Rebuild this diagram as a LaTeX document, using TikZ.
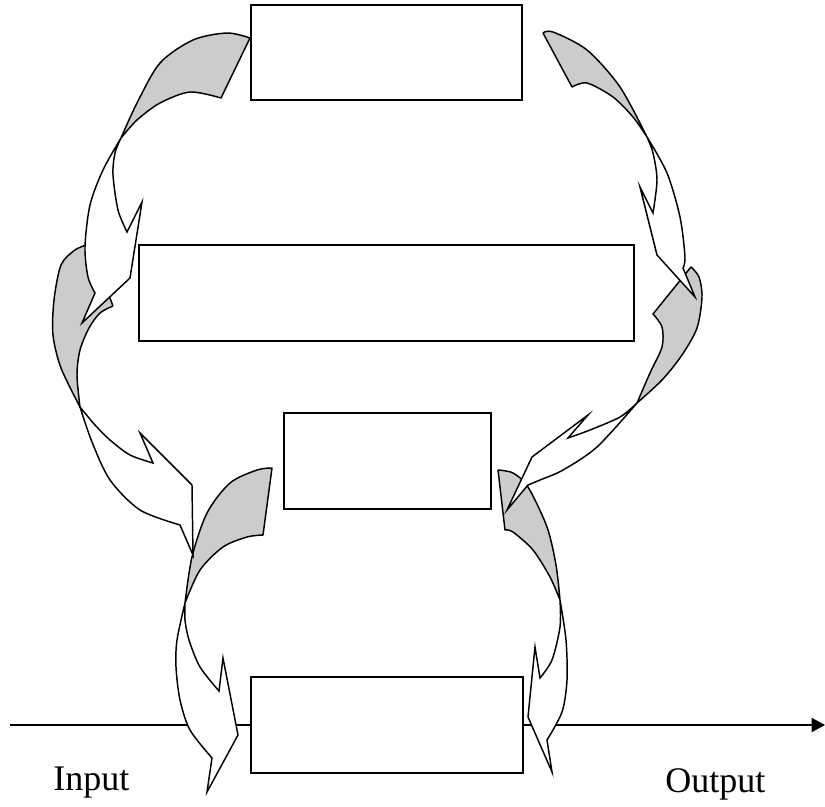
\documentclass[tikz,border=0pt]{standalone}
\usepackage{fontspec}
\setmainfont{Liberation Serif}
\usetikzlibrary{arrows.meta, positioning}

\begin{document}
\begin{tikzpicture}[x=0.75pt, y=-0.75pt, >={Triangle[length=10pt, width=10.5pt]},
    stagebox/.style={draw, line width=1.5pt, fill=white, inner sep=0pt, outer sep=0pt, minimum height=72pt},
    backband/.style={draw, line width=1.1pt, fill=black!20, line join=round},
    frontband/.style={draw, line width=1.1pt, fill=white},
    label/.style={font=\fontsize{27}{32}\selectfont, anchor=base west, inner sep=0pt}]
        \useasboundingbox (0,0) rectangle (825,807);
        % Stages
        \node[stagebox, minimum width=203.25pt, minimum height=71.25pt] (first) at (386.5,52.5) {};
        \node[stagebox, minimum width=371.25pt] (second) at (386.5,293) {};
        \node[stagebox, minimum width=155.25pt] (third) at (387.5,461) {};
        \node[stagebox, minimum width=204pt] (fourth) at (387,725) {};
        % Input and output line
        \coordinate (start) at (10,725);
        \coordinate (finish) at (825,725);
        \draw[line width=1.5pt] (start) -- (fourth.west);
        \draw[line width=1.5pt, ->] (fourth.east) -- (finish);
        \node[label] (input) at (53,790) {Input};
        \node[label] (output) at (665,792) {Output};
        % Left side, third band
        \draw[backband] (272,468) -- (263,535)
            -- plot[smooth] coordinates {(263,535) (247,537) (223,547) (200,570) (185,603)}
            -- plot[smooth] coordinates {(185,603) (192,557) (207,513) (230,483) (257,470) (272,468)} -- cycle;
        \draw[frontband] (185,603)
            -- plot[smooth] coordinates {(185,603) (177,640) (176,667) (180,700) (190,730) (212,758)}
            -- (207,792) -- (238,735) -- (223,658) -- (219,691)
            -- plot[smooth] coordinates {(219,691) (200,667) (189,640) (185,620) (185,603)} -- cycle;
        % Left side, second band
        \draw[backband] (89,244) -- (113,306)
            -- plot[smooth] coordinates {(113,306) (100,313) (89,328) (80,350) (77,375) (80,407)}
            -- plot[smooth] coordinates {(80,407) (61,368) (53,335) (54,300) (61,265) (75,250) (89,244)} -- cycle;
        \draw[frontband] (80,407)
            -- plot[smooth] coordinates {(80,407) (92,442) (110,480) (140,510) (180,525)}
            -- (193,555) -- (192,485) -- (140,433) -- (153,463)
            -- plot[smooth] coordinates {(153,463) (130,455) (110,440) (95,425) (80,407)} -- cycle;
        % Left side, first band
        \draw[backband] (250,38) -- (221,98)
            -- plot[smooth] coordinates {(221,98) (190,92) (160,103) (137,120) (121,138)}
            -- plot[smooth] coordinates {(121,138) (137,103) (160,63) (193,40) (227,33) (250,38)} -- cycle;
        \draw[frontband] (121,138)
            -- plot[smooth] coordinates {(121,138) (103,170) (90,205) (85,247) (88,277) (95,293)}
            -- (82,323) -- (130,278) -- (142,202) -- (127,232)
            -- plot[smooth] coordinates {(127,232) (118,210) (113,175) (115,153) (121,138)} -- cycle;
        % Right side, third band
        \draw[backband] (498,470) -- (505,530)
            -- plot[smooth] coordinates {(505,530) (513,532) (533,550) (550,577) (560,600)}
            -- plot[smooth] coordinates {(560,600) (556,565) (547,527) (528,487) (513,473) (498,470)} -- cycle;
        \draw[frontband] (560,600)
            -- plot[smooth] coordinates {(560,600) (566,640) (567,680) (562,712) (547,740)}
            -- (552,772) -- (528,717) -- (535,647) -- (540,678)
            -- plot[smooth] coordinates {(540,678) (552,660) (560,627) (560,600)} -- cycle;
        % Right side, second band
        \draw[backband] (691,267) -- (653,314)
            -- plot[smooth] coordinates {(653,314) (662,327) (662,347) (650,373) (637,403)}
            -- plot[smooth] coordinates {(637,403) (662,380) (682,355) (697,328) (702,297) (699,277) (691,267)} -- cycle;
        \draw[frontband] (637,403)
            -- plot[smooth] coordinates {(637,403) (597,447) (563,470) (540,480) (528,485)}
            -- (507,510) -- (532,457) -- (588,415) -- (568,438)
            -- plot[smooth] coordinates {(568,438) (590,430) (620,417) (637,403)} -- cycle;
        % Right side, first band
        \draw[backband] (543,33) -- (572,87)
            -- plot[smooth] coordinates {(572,87) (587,83) (613,97) (633,117) (647,137)}
            -- plot[smooth] coordinates {(647,137) (620,87) (587,50) (553,32) (543,33)} -- cycle;
        \draw[frontband] (647,137)
            -- plot[smooth] coordinates {(647,137) (667,173) (680,217) (685,257) (683,268)}
            -- (695,297) -- (657,255) -- (640,187) -- (653,213)
            -- plot[smooth] coordinates {(653,213) (657,180) (653,153) (647,137)} -- cycle;
    \end{tikzpicture}
\end{document}
